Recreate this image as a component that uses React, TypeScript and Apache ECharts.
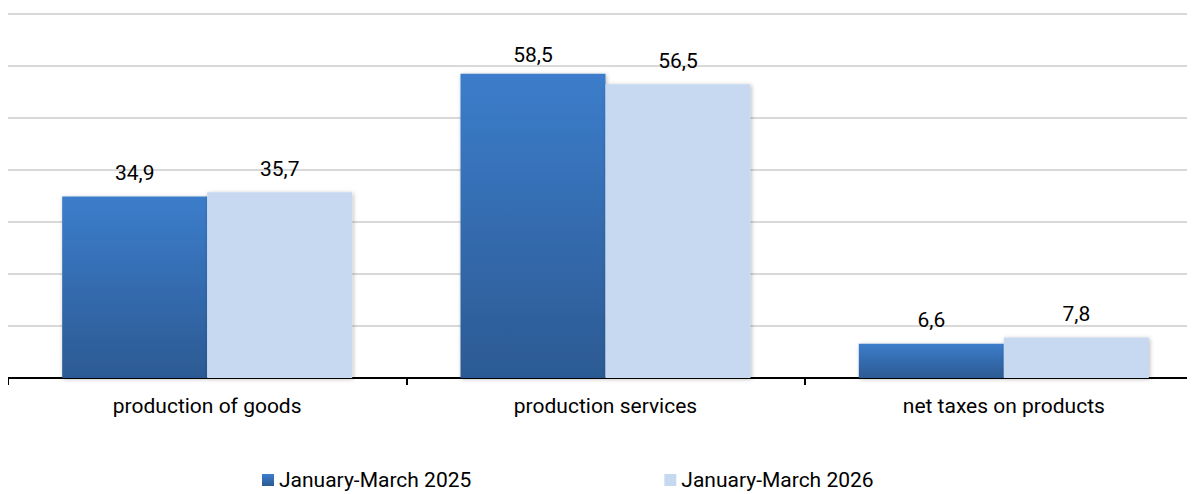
import React, { useEffect, useRef } from "react";
import * as echarts from "echarts";

const categories = ["production of goods", "production services", "net taxes on products"];
const seriesNames = ["January-March 2025", "January-March 2026"];
const values2025 = [34.9, 58.5, 6.6];
const values2026 = [35.7, 56.5, 7.8];

const FONT = "Roboto, 'Noto Sans', sans-serif";

export default function App() {
  const ref = useRef<HTMLDivElement>(null);
  useEffect(() => {
    if (!ref.current) return;
    const chart = echarts.init(ref.current, undefined, { renderer: "svg" });
    const label = {
      show: true,
      position: "top" as const,
      distance: 13,
      color: "#000",
      fontSize: 21,
      fontFamily: FONT,
      formatter: (p: any) => String(p.value).replace(".", ","),
    };
    const shadow = {
      shadowBlur: 4,
      shadowColor: "rgba(0,0,0,0.28)",
      shadowOffsetX: 1,
      shadowOffsetY: 1,
    };
    const data2025 = values2025.map((v, i) =>
      i === 1 ? { value: v, label: { distance: 8 } } : v
    );
    chart.setOption({
      animation: false,
      grid: { left: 0, right: 0, top: 6, bottom: 116, containLabel: false },
      legend: {
        data: seriesNames,
        left: 254,
        top: 461,
        padding: 0,
        itemWidth: 12,
        itemHeight: 12,
        itemGap: 193,
        icon: "rect",
        textStyle: { fontSize: 21, lineHeight: 22, fontFamily: FONT, color: "#000" },
      },
      xAxis: {
        type: "category",
        data: categories,
        axisLine: { lineStyle: { color: "#000", width: 2 } },
        axisTick: { show: true, length: 7, lineStyle: { color: "#000", width: 2 } },
        axisLabel: { fontSize: 21, fontFamily: FONT, color: "#000", margin: 17 },
      },
      yAxis: {
        type: "value",
        min: 0,
        max: 70,
        interval: 10,
        axisLabel: { show: false },
        axisLine: { show: false },
        axisTick: { show: false },
        splitLine: { lineStyle: { color: "#d9d9d9", width: 2 } },
      },
      series: [
        {
          name: seriesNames[0],
          type: "bar",
          data: data2025,
          barWidth: 145,
          barGap: "0%",
          label,
          itemStyle: {
            color: new echarts.graphic.LinearGradient(0, 0, 0, 1, [
              { offset: 0, color: "#3c7dcb" },
              { offset: 1, color: "#2c5a93" },
            ]),
            ...shadow,
          },
        },
        {
          name: seriesNames[1],
          type: "bar",
          data: values2026,
          barWidth: 145,
          barGap: "0%",
          label,
          itemStyle: { color: "#c6d9f0", ...shadow },
        },
      ],
    });
    return () => chart.dispose();
  }, []);
  return <div ref={ref} style={{ width: 1195, height: 486 }} />;
}
